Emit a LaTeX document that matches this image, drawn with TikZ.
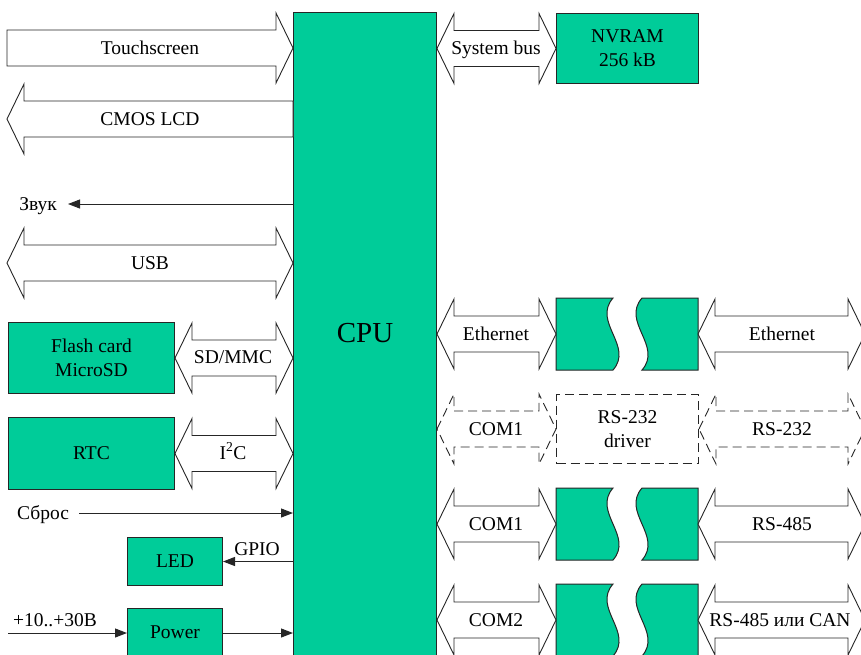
\documentclass[tikz,border=0pt]{standalone}
\usepackage{fontspec}
\setmainfont{Liberation Serif}
\newfontfamily\tnr{Liberation Serif}
\usetikzlibrary{arrows.meta,calc}
\definecolor{grn}{HTML}{00CC99}
\definecolor{ln}{HTML}{262626}
% double-headed broad arrow between two points at the same height
\newcommand\arrD[3][]{\draw[outl,#1] let \p1=#2, \p2=#3 in
  (\p1) -- (\x1+17pt,\y1+35pt) -- (\x1+17pt,\y1+18pt) -- (\x2-17pt,\y1+18pt) -- (\x2-17pt,\y1+35pt)
  -- (\p2) -- (\x2-17pt,\y1-35pt) -- (\x2-17pt,\y1-18pt) -- (\x1+17pt,\y1-18pt) -- (\x1+17pt,\y1-35pt) -- cycle;}
% broad arrow pointing right
\newcommand\arrR[3][]{\draw[outl,#1] let \p1=#2, \p2=#3 in
  (\x1,\y1+18pt) -- (\x2-17pt,\y1+18pt) -- (\x2-17pt,\y1+35pt) -- (\p2)
  -- (\x2-17pt,\y1-35pt) -- (\x2-17pt,\y1-18pt) -- (\x1,\y1-18pt) -- cycle;}
% broad arrow pointing left
\newcommand\arrL[3][]{\draw[outl,#1] let \p1=#2, \p2=#3 in
  (\p1) -- (\x1+17pt,\y1+35pt) -- (\x1+17pt,\y1+18pt) -- (\x2,\y1+18pt)
  -- (\x2,\y1-18pt) -- (\x1+17pt,\y1-18pt) -- (\x1+17pt,\y1-35pt) -- cycle;}
% pair of broken green blocks (transceiver) at row height #1
\newcommand\wpair[1]{%
  \draw[gpath] (556,#1-36) -- (613,#1-36) .. controls (592,#1-12) and (634,#1+12) .. (613,#1+36) -- (556,#1+36) -- cycle;
  \draw[gpath] (642,#1-36) .. controls (621,#1-12) and (663,#1+12) .. (642,#1+36) -- (698,#1+36) -- (698,#1-36) -- cycle;}
\begin{document}
\begin{tikzpicture}[x=1pt,y=-1pt,
  gbox/.style={draw=ln, fill=grn, line width=1pt, inner sep=0pt},
  gpath/.style={draw=ln, fill=grn, line width=1pt, line join=miter},
  outl/.style={draw=ln, line width=0.9pt, fill=white, line join=miter},
  dsh/.style={dash pattern=on 9pt off 5pt},
  lbl/.style={font=\tnr\fontsize{19.5}{24}\selectfont, inner sep=0pt, align=center},
  one/.style={lbl, text height=13pt, text depth=0pt},
  sig/.style={draw=ln, line width=1pt, -{Triangle[length=12pt,width=9pt]}},
]
\useasboundingbox (0,0) rectangle (861,654);
\clip (0,0) rectangle (861,654);

% ---- blocks
\node[gbox, minimum width=143pt, minimum height=650pt, anchor=north west] (cpu) at (293,12) {};
\node[font=\tnr\fontsize{29}{30}\selectfont, inner sep=0pt, text height=19pt, text depth=0pt] (cputxt) at (365,333) {CPU};
\node[gbox, lbl, minimum width=142pt, minimum height=70pt, anchor=north west] (nvram) at (556,13) {NVRAM\\256 kB};
\node[gbox, lbl, minimum width=166pt, minimum height=71pt, anchor=north west] (flash) at (8,322) {Flash card\\MicroSD};
\node[gbox, lbl, minimum width=166pt, minimum height=72pt, anchor=north west] (rtc) at (8,417) {RTC};
\node[gbox, lbl, minimum width=95pt, minimum height=48pt, anchor=north west] (led) at (127,537) {LED};
\node[gbox, lbl, minimum width=95pt, minimum height=48pt, anchor=north west] (power) at (127,608) {Power};
\node[draw=ln, dsh, lbl, line width=1pt, minimum width=142pt, minimum height=69pt, anchor=north west] (drv) at (556,394) {RS-232\\driver};

% ---- free ends
\coordinate (tsL) at (7,48);
\coordinate (lcdL) at (7,119);
\coordinate (usbL) at (7,263);
\coordinate (pin) at (8,633);
\coordinate (r1a) at (556,334); \coordinate (r1b) at (698,334); \coordinate (r1c) at (865,334);
\coordinate (r2c) at (865,429);
\coordinate (r3a) at (556,524); \coordinate (r3b) at (698,524); \coordinate (r3c) at (865,524);
\coordinate (r4a) at (556,620); \coordinate (r4b) at (698,620); \coordinate (r4c) at (865,620);

% ---- broad arrows, left side
\arrR{(tsL)}{(tsL -| cpu.west)}
\node[one] (tstxt) at (150,48) {Touchscreen};
\arrL{(lcdL)}{(lcdL -| cpu.west)}
\node[one] (lcdtxt) at (150,119) {CMOS LCD};
\arrD{(usbL)}{(usbL -| cpu.west)}
\node[one] (usbtxt) at (150,263) {USB};
\arrD{(flash.east)}{(flash.east -| cpu.west)}
\node[one] (sdtxt) at (233,357) {SD/MMC};
\arrD{(rtc.east)}{(rtc.east -| cpu.west)}
\node[one] (i2ctxt) at (233,453) {I\textsuperscript{2}C};

% ---- broad arrows, right side
\arrD{(nvram.west -| cpu.east)}{(nvram.west)}
\node[one] (sbtxt) at (496,48) {System bus};

\wpair{334}
\arrD{(r1a -| cpu.east)}{(r1a)}
\arrD{(r1b)}{(r1c)}
\node[one] (eth1) at (496,334) {Ethernet};
\node[one] (eth2) at (782,334) {Ethernet};

\arrD[dsh]{(drv.west -| cpu.east)}{(drv.west)}
\arrD[dsh]{(drv.east)}{(r2c)}
\node[one] (c1a) at (496,429) {COM1};
\node[one] (rs232) at (782,429) {RS-232};

\wpair{524}
\arrD{(r3a -| cpu.east)}{(r3a)}
\arrD{(r3b)}{(r3c)}
\node[one] (c1b) at (496,524) {COM1};
\node[one] (rs485) at (782,524) {RS-485};

\wpair{620}
\arrD{(r4a -| cpu.east)}{(r4a)}
\arrD{(r4b)}{(r4c)}
\node[one] (c2) at (496,620) {COM2};
\node[one] (can) at (780,620) {RS-485 или CAN};

% ---- thin signal lines
\node[one, anchor=east] (zvuk) at (57,204) {Звук};
\draw[sig] (zvuk -| cpu.west) -- ([xshift=11pt]zvuk.east);
\node[one] (sbros) at (43,513) {Сброс};
\draw[sig] ([xshift=10pt]sbros.east) -- (sbros -| cpu.west);
\draw[sig] (led -| cpu.west) -- (led.east);
\node[one] (gpio) at (257,549) {GPIO};
\node[one] (vin) at (55,620) {+10..+30В};
\draw[sig] (pin) -- (pin -| power.west);
\draw[sig] (pin -| power.east) -- (pin -| cpu.west);
\end{tikzpicture}
\end{document}
